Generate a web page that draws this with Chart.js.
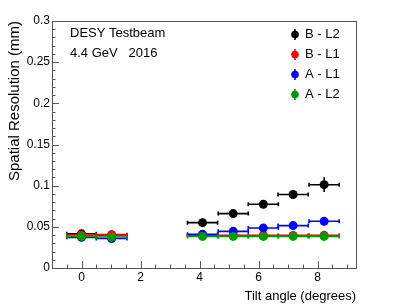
<!DOCTYPE html>
<html><head><meta charset="utf-8">
<script src="https://cdn.jsdelivr.net/npm/chart.js@4/dist/chart.umd.min.js"></script>
<style>html,body{margin:0;padding:0;background:#fff;overflow:hidden}#wrap{width:407px;height:308px;position:relative}</style>
</head><body><div id="wrap"><canvas id="c" width="407" height="308"></canvas></div>
<script>
// ---- data ----
const tiltAngles = [0, 1.02, 4.10, 5.14, 6.16, 7.17, 8.22];
const tiltErrors = [0.5, 0.52, 0.51, 0.51, 0.51, 0.51, 0.51];
const seriesNames = ['B - L2', 'B - L1', 'A - L1', 'A - L2'];
const resB_L2 = [0.0415, 0.0400, 0.0551, 0.0661, 0.0774, 0.0893, 0.1012];
const errB_L2 = [0.002, 0.002, 0.002, 0.002, 0.002, 0.003, 0.009];
const resB_L1 = [0.0400, 0.0405, 0.0396, 0.0396, 0.0396, 0.0396, 0.0397];
const errB_L1 = [0.0015, 0.0015, 0.0015, 0.0015, 0.0015, 0.0015, 0.0015];
const resA_L1 = [0.0372, 0.0358, 0.0409, 0.0445, 0.0485, 0.0515, 0.0567];
const errA_L1 = [0.0015, 0.0015, 0.0015, 0.0015, 0.0015, 0.0015, 0.0015];
const resA_L2 = [0.0386, 0.0377, 0.0384, 0.0384, 0.0384, 0.0384, 0.0384];
const errA_L2 = [0.0015, 0.0015, 0.0015, 0.0015, 0.0015, 0.0015, 0.0015];
const seriesColors = ['#000000', '#ff0000', '#0000ff', '#009900'];
const annotationLines = ['DESY Testbeam', '4.4 GeV   2016'];
const xAxisTitle = 'Tilt angle (degrees)';
const yAxisTitle = 'Spatial Resolution (mm)';
const xMajorStep = 2, xMinorStep = 0.5;
const yMajorStep = 0.05, yMinorStep = 0.01;

const FONT = "'Liberation Sans', Arial, Helvetica, sans-serif";
const allRes = [resB_L2, resB_L1, resA_L1, resA_L2];
const allErr = [errB_L2, errB_L1, errA_L1, errA_L2];

const datasets = seriesNames.map((name, i) => ({
  label: name,
  data: tiltAngles.map((x, k) => ({x: x, y: allRes[i][k], xErr: tiltErrors[k], yErr: allErr[i][k]})),
  backgroundColor: seriesColors[i],
  borderColor: seriesColors[i],
  borderWidth: 0,
  pointRadius: 4.5,
  pointHoverRadius: 4.5,
  showLine: false,
  order: seriesNames.length - i
}));

function isMult(v, step) { const r = v / step; return Math.abs(r - Math.round(r)) < 1e-6; }

const errorBarPlugin = {
  id: 'errorBars',
  beforeDatasetDraw(chart, args) {
    const ds = chart.data.datasets[args.index];
    const xs = chart.scales.x, ys = chart.scales.y, ctx = chart.ctx;
    const a = chart.chartArea;
    ctx.save();
    ctx.beginPath(); ctx.rect(a.left, a.top, a.right - a.left, a.bottom - a.top); ctx.clip();
    ctx.strokeStyle = ds.borderColor; ctx.lineWidth = 1.6;
    ds.data.forEach(p => {
      const x0 = xs.getPixelForValue(p.x - p.xErr), x1 = xs.getPixelForValue(p.x + p.xErr);
      const xc = xs.getPixelForValue(p.x);
      const y = ys.getPixelForValue(p.y);
      const y0 = ys.getPixelForValue(p.y - p.yErr), y1 = ys.getPixelForValue(p.y + p.yErr);
      ctx.beginPath();
      ctx.moveTo(x0, y); ctx.lineTo(x1, y);
      ctx.moveTo(x0, y - 2); ctx.lineTo(x0, y + 2);
      ctx.moveTo(x1, y - 2); ctx.lineTo(x1, y + 2);
      ctx.moveTo(xc, y0); ctx.lineTo(xc, y1);
      ctx.stroke();
    });
    ctx.restore();
  }
};

const framePlugin = {
  id: 'frame',
  afterDatasetsDraw(chart) {
    const ctx = chart.ctx, a = chart.chartArea, xs = chart.scales.x, ys = chart.scales.y;
    ctx.save();
    ctx.strokeStyle = '#555'; ctx.lineWidth = 1;
    ctx.strokeRect(Math.round(a.left) + 0.5, Math.round(a.top) + 0.5, Math.round(a.right - a.left), Math.round(a.bottom - a.top));
    ctx.beginPath();
    xs.ticks.forEach(t => {
      const px = Math.round(xs.getPixelForValue(t.value)) + 0.5;
      const len = isMult(t.value, xMajorStep) ? 7 : 3.5;
      ctx.moveTo(px, a.bottom); ctx.lineTo(px, a.bottom - len);
    });
    ys.ticks.forEach(t => {
      const py = Math.round(ys.getPixelForValue(t.value)) + 0.5;
      const len = isMult(t.value, yMajorStep) ? 7 : 3.5;
      ctx.moveTo(a.left, py); ctx.lineTo(a.left + len, py);
    });
    ctx.stroke();
    ctx.restore();
  },
  afterDraw(chart) {
    const ctx = chart.ctx;
    ctx.save();
    ctx.fillStyle = '#000'; ctx.font = '13px ' + FONT; ctx.textBaseline = 'middle'; ctx.textAlign = 'left';
    ctx.fillText(annotationLines[0], 70, 33.5);
    ctx.fillText(annotationLines[1], 70, 53.5);
    // legend
    chart.data.datasets.forEach((ds, i) => {
      const y = 34.5 + i * 20, x = 295;
      ctx.strokeStyle = ds.borderColor; ctx.fillStyle = ds.backgroundColor; ctx.lineWidth = 1.6;
      ctx.beginPath(); ctx.moveTo(x, y - 5.5); ctx.lineTo(x, y + 5.5); ctx.stroke();
      ctx.beginPath(); ctx.arc(x, y, 3.8, 0, Math.PI * 2); ctx.fill();
      ctx.fillStyle = '#000';
      ctx.fillText(ds.label, 305, y);
    });
    ctx.restore();
  }
};

function buildTicks(min, max, step) {
  const out = [];
  const n0 = Math.ceil(min / step - 1e-9), n1 = Math.floor(max / step + 1e-9);
  for (let n = n0; n <= n1; n++) out.push({value: +(n * step).toFixed(6)});
  return out;
}

new Chart(document.getElementById('c'), {
  type: 'scatter',
  data: {datasets: datasets},
  options: {
    responsive: false, animation: false, devicePixelRatio: 1,
    layout: {padding: {left: 0, top: 21, right: 51, bottom: 0}},
    plugins: {legend: {display: false}, tooltip: {enabled: false}},
    scales: {
      x: {
        type: 'linear', min: -1.0, max: 9.3,
        grid: {display: false, drawTicks: false},
        border: {display: false},
        afterBuildTicks: s => { s.ticks = buildTicks(-1.0, 9.3, xMinorStep); },
        afterFit: s => { s.height = 40; },
        ticks: {
          autoSkip: false, maxRotation: 0, padding: 2, color: '#000',
          font: {size: 12, family: FONT},
          callback: v => isMult(v, xMajorStep) ? String(Math.round(v)) : ''
        },
        title: {display: true, text: xAxisTitle, align: 'end', color: '#000',
          font: {size: 13, family: FONT}, padding: {top: 0, bottom: 4}}
      },
      y: {
        type: 'linear', min: 0, max: 0.3,
        grid: {display: false, drawTicks: false},
        border: {display: false},
        afterBuildTicks: s => { s.ticks = buildTicks(0, 0.3, yMinorStep); },
        afterFit: s => { s.width = 52; },
        ticks: {
          autoSkip: false, padding: 2, color: '#000',
          font: {size: 12, family: FONT},
          callback: v => isMult(v, yMajorStep) ? String(+v.toFixed(2)) : ''
        },
        title: {display: true, text: yAxisTitle, align: 'end', color: '#000',
          font: {size: 15, family: FONT}, padding: {top: 6, bottom: 0}}
      }
    }
  },
  plugins: [errorBarPlugin, framePlugin]
});
</script>
</body></html>
